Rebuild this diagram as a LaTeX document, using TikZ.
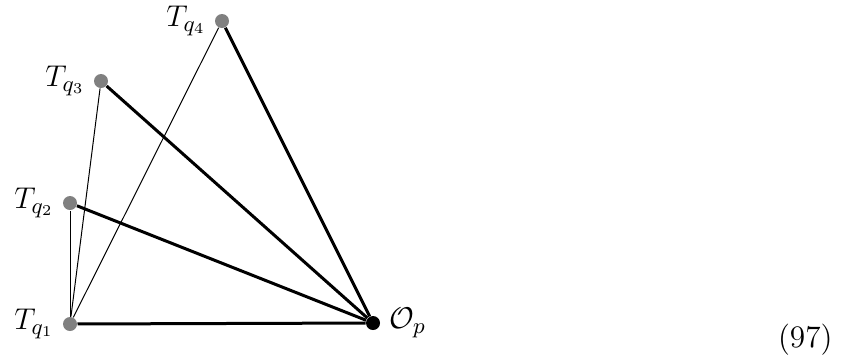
\documentclass[tikz,border=0pt]{standalone}
\begin{document}
\begin{tikzpicture}[x=0.4pt,y=-0.4pt,
  pt/.style={circle,fill=gray,inner sep=0pt,minimum size=5.6pt},
  opt/.style={circle,fill=black,inner sep=0pt,minimum size=5.6pt},
  thinline/.style={line width=0.4pt},
  thickline/.style={line width=1.2pt},
  lbl/.style={label distance=2pt},
  every label/.style={font=\fontsize{12.5}{15}\selectfont}]
\useasboundingbox (0,0) rectangle (845,356);
\node[pt,lbl,label={left:$T_{q_1}$}] (q1) at (70,324) {};
\node[pt,lbl,label={left:$T_{q_2}$}] (q2) at (70,203) {};
\node[pt,lbl,label={left:$T_{q_3}$}] (q3) at (101,81) {};
\node[pt,lbl,label={left:$T_{q_4}$}] (q4) at (222,21) {};
\node[opt,label distance=1pt,label={right:$\mathcal{O}_p$}] (op) at (373,323) {};
\draw[thinline] (q1) -- (q2);
\draw[thinline] (q1) -- (q3);
\draw[thinline] (q1) -- (q4);
\draw[thickline] (q1) -- (op);
\draw[thickline] (q2) -- (op);
\draw[thickline] (q3) -- (op);
\draw[thickline] (q4) -- (op);
\node[anchor=base east,inner sep=0pt,font=\fontsize{12.5}{15}\selectfont] (eq) at (833,347) {(97)};
\end{tikzpicture}
\end{document}
